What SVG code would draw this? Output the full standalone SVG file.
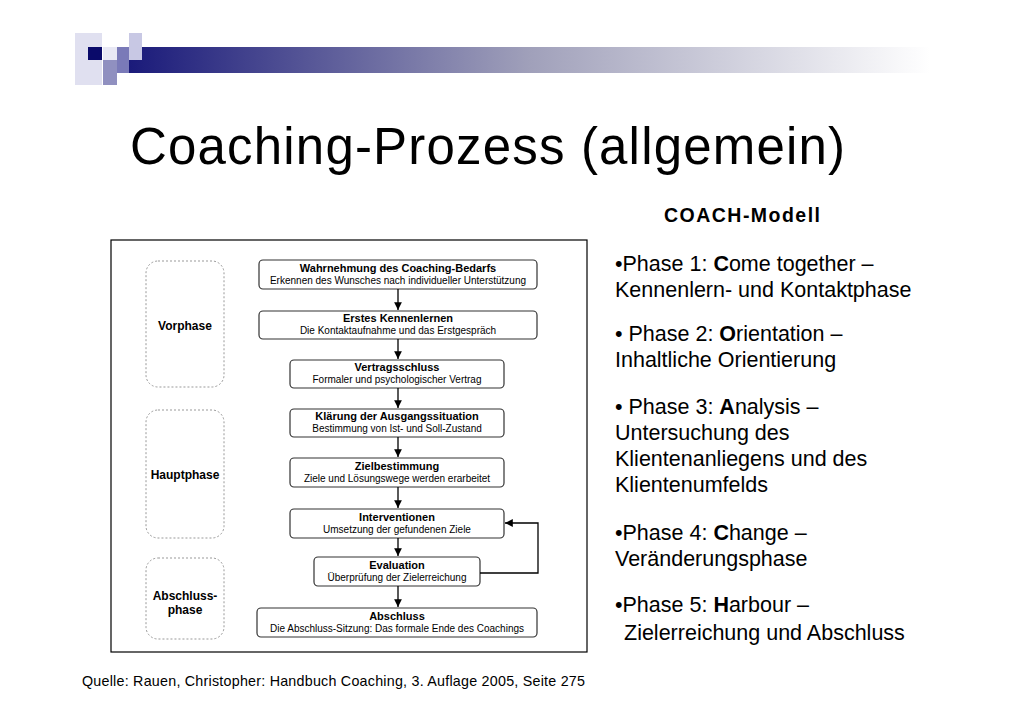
<svg xmlns="http://www.w3.org/2000/svg" width="1030" height="728" viewBox="0 0 1030 728">
<defs>
<linearGradient id="bar" x1="0" x2="1" y1="0" y2="0"><stop offset="0" stop-color="#1a1a7a"/><stop offset="0.5" stop-color="#a0a0ba"/><stop offset="1" stop-color="#ffffff"/></linearGradient>
<marker id="ah" viewBox="0 0 10 10" refX="10" refY="5" markerWidth="6" markerHeight="6" orient="auto"><path d="M0,0 L10,5 L0,10 z" fill="#000"/></marker>
<style>
.b{fill:#fff;stroke:#333;stroke-width:1.2}
.ph{fill:none;stroke:#999;stroke-width:1;stroke-dasharray:2,2}
.t{font-family:"Liberation Sans",Arial,sans-serif;font-size:11px;font-weight:bold;text-anchor:middle}
.s{font-family:"Liberation Sans",Arial,sans-serif;font-size:10px;text-anchor:middle}
.p{font-family:"Liberation Sans",Arial,sans-serif;font-size:12px;font-weight:bold;text-anchor:middle}
.r{font-family:"Liberation Sans",Arial,sans-serif;font-size:21.5px}
.c{stroke:#000;stroke-width:1.3;fill:none}
</style>
</defs>
<rect width="1030" height="728" fill="#fff"/>
<g id="logo">
<rect x="128" y="47" width="802" height="26" fill="url(#bar)"/>
<rect x="75" y="33" width="27" height="52" fill="#e0e0f0"/>
<rect x="88" y="47" width="14" height="13" fill="#0a0a6a"/>
<rect x="103" y="60" width="14" height="25" fill="#9090c0"/>
<rect x="117" y="47" width="12" height="26" fill="#7a7ab8"/>
<rect x="129" y="33" width="13" height="27" fill="#c8c8e4"/>
<rect x="103" y="47" width="14" height="13" fill="#e8e8f4"/>
</g>
<text x="130" y="164" font-family="Liberation Sans,Arial,sans-serif" font-size="51" textLength="715" lengthAdjust="spacing" fill="#000">Coaching-Prozess (allgemein)</text>
<rect id="frame" x="111" y="240" width="476" height="412" fill="#fff" stroke="#000" stroke-width="1.2"/>
<g id="phases">
<rect class="ph" x="146" y="261" width="78" height="126" rx="12"/><text class="p" x="185" y="330">Vorphase</text>
<rect class="ph" x="146" y="410" width="78" height="128" rx="12"/><text class="p" x="185" y="479">Hauptphase</text>
<rect class="ph" x="146" y="558" width="78" height="81" rx="12"/><text class="p" x="185" y="600">Abschluss-</text><text class="p" x="185" y="614">phase</text>
</g>
<g id="n1"><rect class="b" x="259" y="260" width="278" height="29" rx="4"/><text class="t" x="398" y="272">Wahrnehmung des Coaching-Bedarfs</text><text class="s" x="398" y="284">Erkennen des Wunsches nach individueller Unterstützung</text></g>
<g id="n2"><rect class="b" x="259" y="311" width="278" height="28" rx="4"/><text class="t" x="398" y="322">Erstes Kennenlernen</text><text class="s" x="398" y="334">Die Kontaktaufnahme und das Erstgespräch</text></g>
<g id="n3"><rect class="b" x="290" y="360" width="214" height="28" rx="4"/><text class="t" x="397" y="371">Vertragsschluss</text><text class="s" x="397" y="383">Formaler und psychologischer Vertrag</text></g>
<g id="n4"><rect class="b" x="290" y="409" width="214" height="28" rx="4"/><text class="t" x="397" y="420">Klärung der Ausgangssituation</text><text class="s" x="397" y="432">Bestimmung von Ist- und Soll-Zustand</text></g>
<g id="n5"><rect class="b" x="290" y="458" width="214" height="29" rx="4"/><text class="t" x="397" y="470">Zielbestimmung</text><text class="s" x="397" y="482">Ziele und Lösungswege werden erarbeitet</text></g>
<g id="n6"><rect class="b" x="290" y="509" width="214" height="29" rx="4"/><text class="t" x="397" y="521">Interventionen</text><text class="s" x="397" y="533">Umsetzung der gefundenen Ziele</text></g>
<g id="n7"><rect class="b" x="314" y="557" width="166" height="29" rx="4"/><text class="t" x="397" y="569">Evaluation</text><text class="s" x="397" y="581">Überprüfung der Zielerreichung</text></g>
<g id="n8"><rect class="b" x="257" y="608" width="280" height="29" rx="4"/><text class="t" x="397" y="620">Abschluss</text><text class="s" x="397" y="632">Die Abschluss-Sitzung: Das formale Ende des Coachings</text></g>
<g id="connectors">
<line class="c" x1="398" y1="289" x2="398" y2="310" marker-end="url(#ah)"/>
<line class="c" x1="398" y1="339" x2="398" y2="359" marker-end="url(#ah)"/>
<line class="c" x1="398" y1="388" x2="398" y2="408" marker-end="url(#ah)"/>
<line class="c" x1="398" y1="437" x2="398" y2="457" marker-end="url(#ah)"/>
<line class="c" x1="398" y1="487" x2="398" y2="508" marker-end="url(#ah)"/>
<line class="c" x1="398" y1="538" x2="398" y2="556" marker-end="url(#ah)"/>
<line class="c" x1="398" y1="586" x2="398" y2="607" marker-end="url(#ah)"/>
<polyline class="c" points="480,573 538,573 538,523 505,523" marker-end="url(#ah)"/>
</g>
<text x="82" y="686" font-family="Liberation Sans,Arial,sans-serif" font-size="14.3" textLength="503" lengthAdjust="spacing">Quelle: Rauen, Christopher: Handbuch Coaching, 3. Auflage 2005, Seite 275</text>
<g id="coach">
<text x="664" y="222" font-family="Liberation Sans,Arial,sans-serif" font-size="19.5" font-weight="bold" textLength="156" lengthAdjust="spacing">COACH-Modell</text>
<text class="r" x="615" y="271">•Phase 1: <tspan font-weight="bold">C</tspan>ome together –</text>
<text class="r" x="615" y="297">Kennenlern- und Kontaktphase</text>
<text class="r" x="615" y="341">• Phase 2: <tspan font-weight="bold">O</tspan>rientation –</text>
<text class="r" x="615" y="367">Inhaltliche Orientierung</text>
<text class="r" x="615" y="414">• Phase 3: <tspan font-weight="bold">A</tspan>nalysis –</text>
<text class="r" x="615" y="440">Untersuchung des</text>
<text class="r" x="615" y="466">Klientenanliegens und des</text>
<text class="r" x="615" y="492">Klientenumfelds</text>
<text class="r" x="615" y="540">•Phase 4: <tspan font-weight="bold">C</tspan>hange –</text>
<text class="r" x="615" y="566">Veränderungsphase</text>
<text class="r" x="615" y="612">•Phase 5: <tspan font-weight="bold">H</tspan>arbour –</text>
<text class="r" x="624" y="640">Zielerreichung und Abschluss</text>
</g>
</svg>
